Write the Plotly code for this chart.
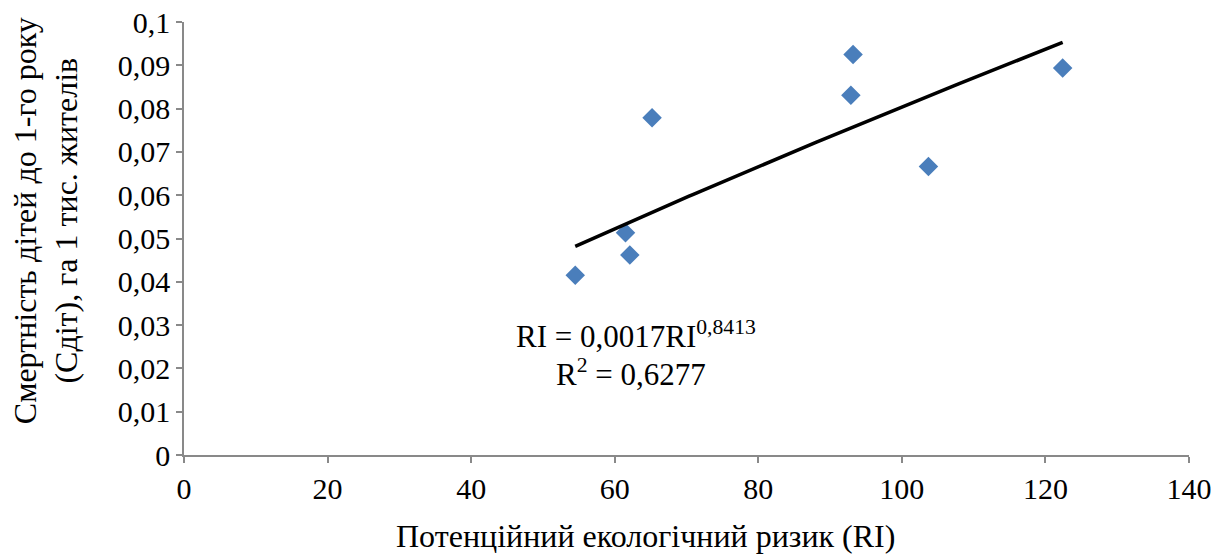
import numpy as np
import plotly.graph_objects as go

# Data
ri_values = [54.5, 61.5, 62.1, 65.2, 92.9, 93.2, 103.7, 122.4]
mortality = [0.0415, 0.0513, 0.0462, 0.0779, 0.0831, 0.0925, 0.0666, 0.0894]

x_ticks = [0, 20, 40, 60, 80, 100, 120, 140]
y_ticks = [0, 0.01, 0.02, 0.03, 0.04, 0.05, 0.06, 0.07, 0.08, 0.09, 0.1]
y_tick_labels = ["0", "0,01", "0,02", "0,03", "0,04", "0,05", "0,06", "0,07", "0,08", "0,09", "0,1"]

x_title = "Потенційний екологічний ризик (RI)"
y_title = "Смертність дітей до 1-го року<br>(Сдіт), га 1 тис. жителів"
eq_line1 = "RI = 0,0017RI<sup>0,8413</sup>"
eq_line2 = "R<sup>2</sup> = 0,6277"

# Power trendline fitted from the data (log-log regression)
xs = np.array(ri_values)
ys = np.array(mortality)
b, ln_a = np.polyfit(np.log(xs), np.log(ys), 1)
a = np.exp(ln_a)
x_fit = np.linspace(xs.min(), xs.max(), 100)
y_fit = a * x_fit ** b

FONT = "Liberation Serif, Times New Roman, serif"
FS = 30
TFS = 32
AXC = "#898989"

fig = go.Figure()
fig.add_trace(go.Scatter(
    x=ri_values, y=mortality, mode="markers",
    marker=dict(symbol="diamond", size=15, color="#4A7EBB", line=dict(width=0)),
    showlegend=False, hoverinfo="skip"))
fig.add_trace(go.Scatter(
    x=x_fit, y=y_fit, mode="lines",
    line=dict(color="black", width=3.5),
    showlegend=False, hoverinfo="skip"))

fig.add_annotation(x=62.96, y=0.0279, xref="x", yref="y", text=eq_line1,
                   showarrow=False, xanchor="center", yanchor="middle",
                   font=dict(family=FONT, size=31, color="black"))
fig.add_annotation(x=62.26, y=0.0191, xref="x", yref="y", text=eq_line2,
                   showarrow=False, xanchor="center", yanchor="middle",
                   font=dict(family=FONT, size=31, color="black"))

# axis titles placed as annotations to match reference offsets
fig.add_annotation(x=0.4597, y=-0.188, xref="paper", yref="paper", text=x_title,
                   showarrow=False, xanchor="center", yanchor="middle",
                   font=dict(family=FONT, size=TFS, color="black"))
fig.add_annotation(x=-0.1373, y=0.540, xref="paper", yref="paper", text=y_title,
                   showarrow=False, xanchor="center", yanchor="middle", textangle=-90,
                   font=dict(family=FONT, size=TFS, color="black"))

fig.update_layout(
    width=1232, height=558,
    margin=dict(l=184, r=43, t=22, b=103, autoexpand=False),
    paper_bgcolor="white", plot_bgcolor="white",
    font=dict(family=FONT, size=FS, color="black"),
)
fig.update_xaxes(
    range=[0, 140], tickvals=x_ticks, ticktext=[str(v) for v in x_ticks],
    showgrid=False, zeroline=False, showline=True, linecolor=AXC, linewidth=1.5,
    ticks="outside", ticklen=6, tickcolor=AXC, tickwidth=1.5,
    tickfont=dict(family=FONT, size=FS),
)
fig.update_yaxes(
    range=[0, 0.1], tickvals=y_ticks, ticktext=y_tick_labels,
    showgrid=False, zeroline=False, showline=True, linecolor=AXC, linewidth=1.5,
    ticks="outside", ticklen=6, tickcolor=AXC, tickwidth=1.5,
    tickfont=dict(family=FONT, size=FS),
)

fig.write_html("out.html", config={"displayModeBar": False},
               post_script="document.body.style.margin='0';")
